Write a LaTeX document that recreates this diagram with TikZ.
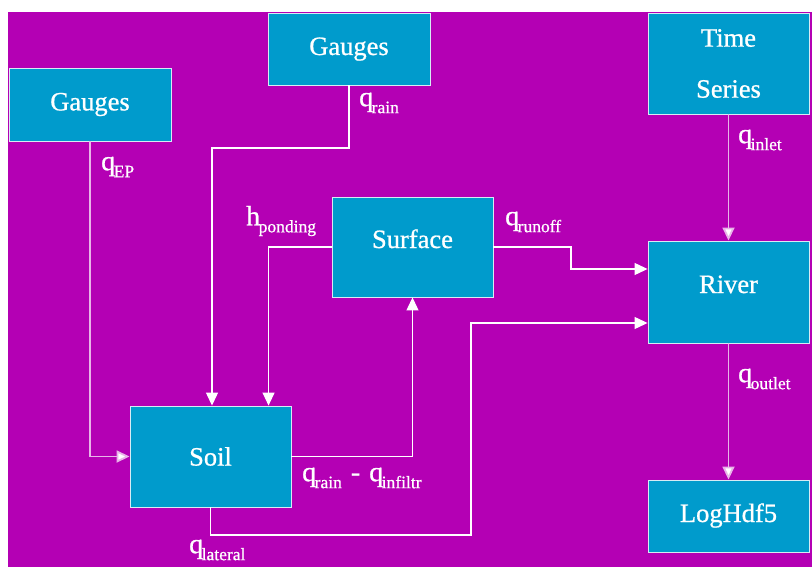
\documentclass[tikz,border=0pt]{standalone}
\usepackage{fontspec}
\setmainfont{Liberation Serif}
\newfontfamily\heavyserif[FakeBold=0.8]{Liberation Serif}
\usetikzlibrary{arrows.meta,calc}

\definecolor{bgpurple}{RGB}{180,0,180}
\definecolor{boxblue}{RGB}{0,155,204}
\definecolor{boxedge}{RGB}{215,235,245}
\definecolor{palewire}{RGB}{232,180,232}

% flux label: main symbol with a lowered subscript
\newcommand\flux[2]{{\fontsize{28}{28}\selectfont #1}\kern-1.5pt\raisebox{-7pt}{\fontsize{17.5}{17.5}\selectfont #2}}

\tikzset{
  module/.style={draw=boxedge, line width=0.9pt, fill=boxblue, text=white,
    inner sep=0pt, font=\heavyserif\fontsize{26.5}{26.5}\selectfont},
  % titles sitting a little above the middle of their box
  raised/.style={text height=18pt, text depth=16pt},
  lifted/.style={text height=18pt, text depth=6pt},
  wire/.style={draw=white, line width=1.2pt, -{Triangle[length=13pt,width=12pt]}},
  palewire/.style={draw=palewire, line width=1.8pt, -{Triangle[length=13pt,width=12pt,fill=white]}},
  fluxlabel/.style={text=white, inner sep=0pt, anchor=west, font=\heavyserif}
}

\begin{document}
\begin{tikzpicture}[x=1pt,y=-1pt]
  \useasboundingbox (0,0) rectangle (812,567);
  \fill[white] (0,0) rectangle (812,567);
  \fill[bgpurple] (8,12) rectangle (812,567);

  % modules
  \node[module, minimum width=162pt, minimum height=73pt] (gaugesL) at (90,104.5) {Gauges};
  \node[module, lifted, minimum width=162pt, minimum height=72pt] (gaugesT) at (349,49) {Gauges};
  \node[module, minimum width=161pt, minimum height=101pt, align=center,
        font=\heavyserif\fontsize{26.5}{51}\selectfont] (series) at (728.5,63.5) {Time\\Series};
  \node[module, raised, minimum width=161pt, minimum height=100pt] (surface) at (412.5,247) {Surface};
  \node[module, raised, minimum width=161pt, minimum height=102pt] (river) at (728.5,292) {River};
  \node[module, lifted, minimum width=161pt, minimum height=72pt] (loghdf) at (728.5,516) {LogHdf5};
  \node[module, minimum width=161pt, minimum height=101pt] (soil) at (210.5,456.5) {Soil};

  % routing points
  \coordinate (rainbend) at (212,148);
  \coordinate (pondin) at ($(soil.north west)+(139,0)$);
  \coordinate (runoffA) at (571,247);
  \coordinate (runoffB) at (571,269);
  \coordinate (runoffin) at ($(river.west)+(0,-23)$);
  \coordinate (latA) at (210.5,535);
  \coordinate (latB) at (471,535);
  \coordinate (latC) at (471,323);
  \coordinate (latin) at ($(river.west)+(0,31)$);

  % fluxes
  \draw[palewire] (gaugesL.south) |- (soil.west);
  \draw[wire] (gaugesT.south) |- (rainbend) -- (rainbend |- soil.north);
  \draw[wire] (surface.west) -| (pondin);
  \draw[wire] (soil.east) -| (surface.south);
  \draw[wire] (soil.south) -- (latA) -- (latB) -- (latC) -- (latin);
  \draw[wire] (surface.east) -- (runoffA) -- (runoffB) -- (runoffin);
  \draw[palewire] (series.south) -- (river.north);
  \draw[palewire] (river.south) -- (loghdf.north);

  % flux labels
  \node[fluxlabel] (lEP) at (101,167) {\flux{q}{EP}};
  \node[fluxlabel] (lrain) at (359,103) {\flux{q}{rain}};
  \node[fluxlabel] (lpond) at (246,221) {\flux{h}{ponding}};
  \node[fluxlabel] (lrunoff) at (505,222) {\flux{q}{runoff}};
  \node[fluxlabel] (linlet) at (738,140) {\flux{q}{inlet}};
  \node[fluxlabel] (loutlet) at (738,379) {\flux{q}{outlet}};
  \node[fluxlabel] (linfil) at (302,478) {\flux{q}{rain}\hspace{9pt}{\fontsize{28}{28}\selectfont -}\hspace{9pt}\flux{q}{infiltr}};
  \node[fluxlabel] (llateral) at (189,550) {\flux{q}{lateral}};
\end{tikzpicture}
\end{document}
